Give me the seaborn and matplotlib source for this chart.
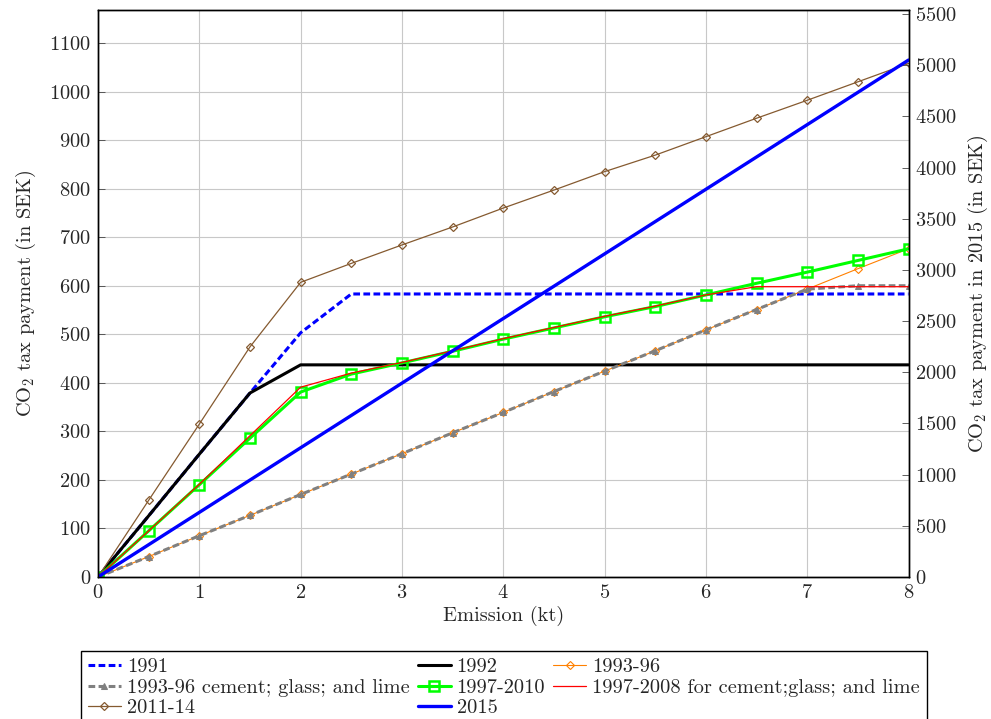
import seaborn as sns
import matplotlib.pyplot as plt

# emission steps (kt)
emission = [0, 0.5, 1, 1.5, 2, 2.5, 3, 3.5, 4, 4.5, 5, 5.5, 6, 6.5, 7, 7.5, 8]

# tax payment (SEK)
tax_1991 = [0, 126, 253, 379, 503, 583, 583, 583, 583, 583, 583, 583, 583, 583, 583, 583, 583]
tax_1992 = [0, 126, 253, 379, 437, 437, 437, 437, 437, 437, 437, 437, 437, 437, 437, 437, 437]
tax_1993_96 = [0, 42, 85, 127, 170, 212, 254, 297, 339, 382, 424, 466, 509, 551, 593, 635, 676]
tax_1993_96_cgl = [0, 42, 85, 127, 170, 212, 254, 297, 339, 382, 424, 466, 509, 551, 593, 600, 600]
tax_1997_2010 = [0, 95, 190, 286, 381, 418, 441, 465, 490, 513, 536, 557, 581, 605, 628, 652, 676]
tax_1997_2008_cgl = [0, 95, 191, 291, 391, 420, 442, 466, 491, 514, 537, 558, 581, 598, 598, 598, 598]
tax_2011_14 = [0, 158, 315, 474, 607, 646, 684, 721, 760, 797, 835, 869, 907, 945, 982, 1020, 1058]

# 2015 is on the right axis
emission_2015 = [0, 8]
tax_2015 = [0, 5050]

labels = ['1991', '1992', '1993-96', '1993-96 cement; glass; and lime', '1997-2010',
          '1997-2008 for cement;glass; and lime', '2011-14', '2015']

sns.set_theme(style='whitegrid')
plt.rcParams['font.family'] = 'cmr10'
plt.rcParams['mathtext.fontset'] = 'cm'
plt.rcParams['axes.formatter.use_mathtext'] = True
fs = 14.7

fig = plt.figure(figsize=(9.91, 7.19), dpi=100)
ax = fig.add_axes([98 / 991, 1 - 577 / 719, 810.5 / 991, 567.5 / 719])

sns.lineplot(x=emission, y=tax_1991, ax=ax, color='blue', lw=2.2, linestyle=(0, (2.2, 1.1)))
sns.lineplot(x=emission, y=tax_1992, ax=ax, color='black', lw=2.2)
sns.lineplot(x=emission, y=tax_1993_96, ax=ax, color='#ff8000', lw=0.8,
             marker='D', markersize=3.6, markerfacecolor='none', markeredgecolor='#ff8000', markeredgewidth=0.8)
sns.lineplot(x=emission, y=tax_1993_96_cgl, ax=ax, color='#808080', lw=2.2, linestyle=(0, (2.2, 1.1)),
             marker='^', markersize=5, markerfacecolor='#808080', markeredgecolor='#808080')
sns.lineplot(x=emission, y=tax_1997_2010, ax=ax, color='#00ff00', lw=2.2,
             marker='s', markersize=7, markerfacecolor='none', markeredgecolor='#00ff00', markeredgewidth=1.8)
sns.lineplot(x=emission, y=tax_1997_2008_cgl, ax=ax, color='red', lw=0.9)
sns.lineplot(x=emission, y=tax_2011_14, ax=ax, color='#855a30', lw=0.9,
             marker='D', markersize=4.2, markerfacecolor='none', markeredgecolor='#855a30', markeredgewidth=0.9)

ax2 = ax.twinx()
sns.lineplot(x=emission_2015, y=tax_2015, ax=ax2, color='blue', lw=2.4)

ax.set_xlim(0, 8)
ax.set_ylim(0, 1169)
ax2.set_ylim(0, 5544)
ax.set_xticks(range(0, 9))
ax.set_yticks(range(0, 1101, 100))
ax2.set_yticks(range(0, 5501, 500))
ax2.grid(False)
ax.grid(True, color='#c8c8c8', lw=0.8)

for a in (ax, ax2):
    a.tick_params(direction='in', length=5, width=0.6, color='#444444', labelsize=fs, pad=5)
    for s in a.spines.values():
        s.set_color('black')
        s.set_linewidth(1.0)

ax.set_xlabel('Emission (kt)', fontsize=fs, labelpad=3)
ax.set_ylabel('CO$_2$ tax payment (in SEK)', fontsize=fs, labelpad=8)
ax2.set_ylabel('CO$_2$ tax payment in 2015 (in SEK)', fontsize=fs, labelpad=6)

handles = ax.get_lines() + ax2.get_lines()
order = [0, 3, 6, 1, 4, 7, 2, 5]
leg = fig.legend([handles[i] for i in order], [labels[i] for i in order],
                 loc='upper left', bbox_to_anchor=(81 / 991, 1 - 651 / 719), ncol=3,
                 frameon=True, fancybox=False, edgecolor='black', framealpha=1,
                 borderaxespad=0, fontsize=fs, handlelength=1.6, handletextpad=0.3,
                 columnspacing=0.4, labelspacing=0.1, borderpad=0.35)
leg.get_frame().set_linewidth(1.0)

fig.savefig('out.png', dpi=100, facecolor='white')
